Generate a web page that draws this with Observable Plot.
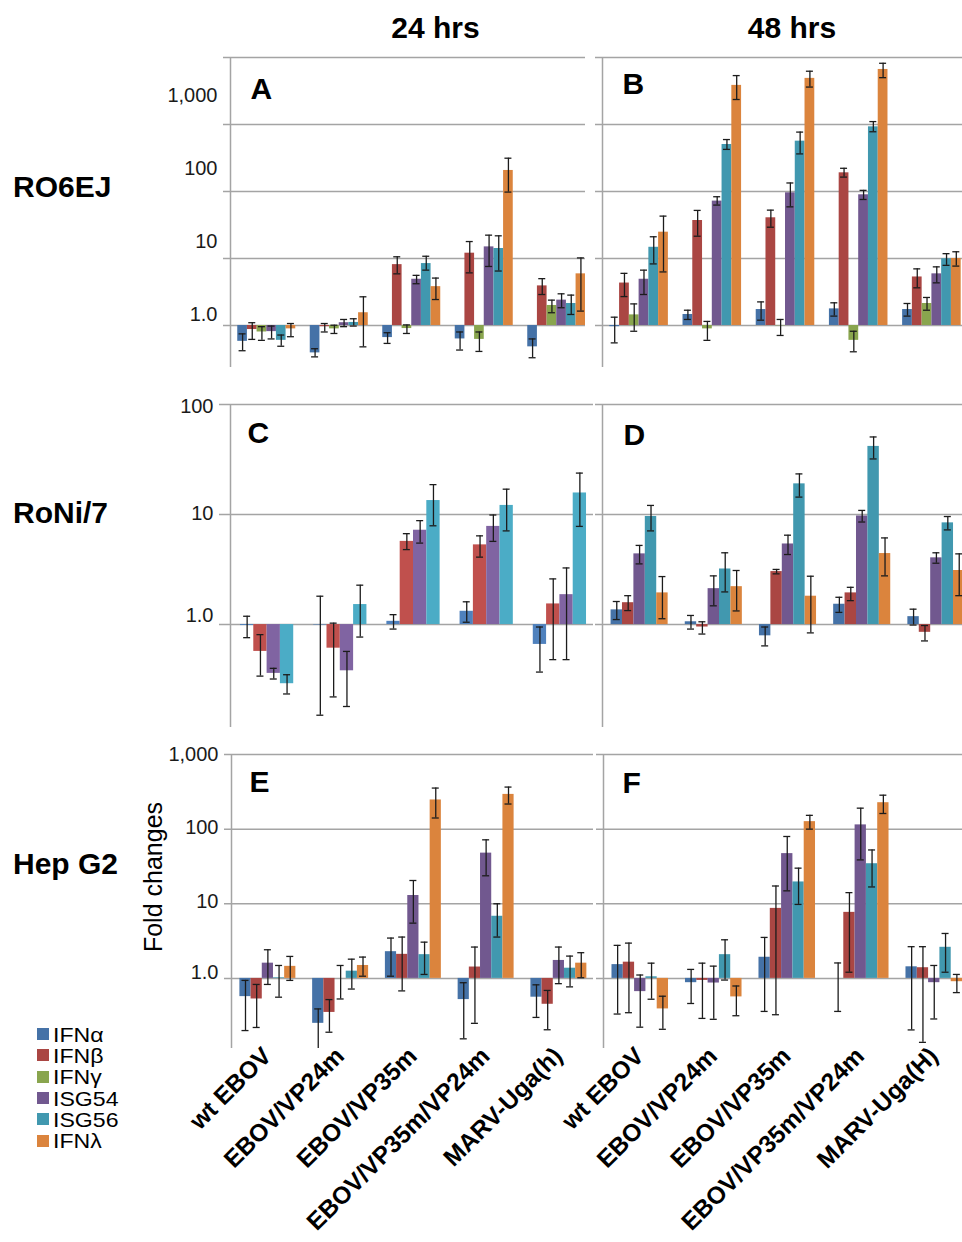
<!DOCTYPE html>
<html><head><meta charset="utf-8">
<script src="https://cdn.jsdelivr.net/npm/d3@7"></script>
<script src="https://cdn.jsdelivr.net/npm/@observablehq/plot@0.6"></script>
<style>
html,body{margin:0;padding:0;background:#fff;}
#root{position:relative;width:962px;height:1242px;overflow:hidden;font-family:"Liberation Sans",Arial,Helvetica,sans-serif;color:#000;}
.abs{position:absolute;white-space:nowrap;line-height:1;}
.hdr{font-weight:bold;font-size:30px;transform:translateX(-50%);}
.row{font-weight:bold;font-size:30px;}
.leg{font-size:21px;transform:scaleX(1.1);transform-origin:0 50%;}
.sw{position:absolute;width:12px;height:12px;}
</style></head><body><div id="root"></div>
<script>
// ---------- data ----------
const timeLabels = ["24 hrs", "48 hrs"];
const cellLines = ["RO6EJ", "RoNi/7", "Hep G2"];
const allSeries = ["IFNα", "IFNβ", "IFNγ", "ISG54", "ISG56", "IFNλ"];
const seriesColors = ["#4572A7", "#AA4643", "#89A54E", "#71588F", "#4198AF", "#DB843D"];
const seriesColorsC = ["#4F81BD", "#C0504D", "#9BBB59", "#8064A2", "#4BACC6", "#F79646"];
const groups24 = ["wt EBOV", "EBOV/VP24m", "EBOV/VP35m", "EBOV/VP35m/VP24m", "MARV-Uga(h)"];
const groups48 = ["wt EBOV", "EBOV/VP24m", "EBOV/VP35m", "EBOV/VP35m/VP24m", "MARV-Uga(H)"];
const tickValues = [1, 10, 100, 1000, 10000];
const tickLabels = ["1.0", "10", "100", "1,000"];
const yTitle = "Fold changes";

// series shown in each panel
const seriesAB = ["IFNα", "IFNβ", "IFNγ", "ISG54", "ISG56", "IFNλ"];
const seriesC = ["IFNα", "IFNβ", "ISG54", "ISG56"];
const seriesDEF = ["IFNα", "IFNβ", "ISG54", "ISG56", "IFNλ"];

// Panel A (RO6EJ, 24 hrs) rows = groups, columns = seriesAB
const valA = [[0.58,0.87,0.80,0.81,0.60,0.89],[0.39,0.96,0.89,1.10,1.11,1.55],[0.66,8.1,0.90,4.9,8.4,3.8],[0.63,12.0,0.62,14.9,14.1,206],[0.48,3.9,1.99,2.39,2.13,5.9]];
const loA  = [[0.42,0.62,0.60,0.63,0.49,0.68],[0.34,0.80,0.76,0.96,0.98,0.48],[0.54,5.9,0.76,4.2,6.7,2.44],[0.43,6.1,0.41,7.6,6.5,98],[0.33,2.9,1.55,1.84,1.46,1.64]];
const hiA  = [[0.75,1.10,0.96,0.98,0.72,1.07],[0.45,1.07,1.01,1.23,1.26,2.68],[0.78,10.6,1.02,5.6,10.8,5.1],[0.80,17.9,0.80,22.3,21.8,314],[0.63,5.0,2.39,2.97,2.84,10.2]];
// Panel B (RO6EJ, 48 hrs)
const valB = [[0.96,4.3,1.44,4.9,14.7,24.7],[1.46,36.9,0.89,71.9,503,3835],[1.73,40.5,0.99,95.6,564,4880],[1.77,190,0.60,89.3,923,6630],[1.73,5.3,2.13,5.9,9.9,10.0]];
const loB  = [[0.55,2.7,0.82,2.9,8.3,6.3],[1.23,21.5,0.60,62.7,425,2360],[1.2,29.3,0.71,59,364,3620],[1.38,164,0.405,76,779,5000],[1.38,3.65,1.69,4.33,7.9,7.7]];
const hiB  = [[1.33,6.0,2.1,6.7,21.1,42.9],[1.69,52.2,1.15,83.5,596,5370],[2.25,52.7,1.23,134,770,6240],[2.18,222,0.82,104,1105,8200],[2.13,7.0,2.62,7.5,11.8,12.6]];
// Panel C (RoNi/7, 24 hrs) columns = seriesC
const valC = [[0.98,0.57,0.36,0.29],[0.99,0.61,0.38,1.52],[1.07,5.7,7.2,13.4],[1.32,5.3,7.8,12.1],[0.66,1.54,1.87,15.7]];
const loC  = [[0.76,0.34,0.32,0.234],[0.15,0.22,0.18,0.77],[0.91,4.8,5.5,7.9],[1.05,4.1,5.7,7.1],[0.37,0.48,0.48,7.8]];
const hiC  = [[1.19,0.81,0.40,0.35],[1.81,1.03,0.57,2.28],[1.23,6.7,8.8,18.7],[1.61,6.4,9.9,17.0],[0.95,2.6,3.27,23.8]];
// Panel D (RoNi/7, 48 hrs) columns = seriesDEF
const valD = [[1.36,1.58,4.39,9.6,1.94],[1.06,0.95,2.12,3.2,2.21],[0.79,3.03,5.4,19.0,1.81],[1.53,1.94,9.7,41.6,4.42],[1.18,0.85,4.04,8.4,3.1]];
const loD  = [[1.11,1.34,3.56,7.1,1.13],[0.91,0.82,1.48,1.98,1.33],[0.64,2.89,4.33,14.4,0.84],[1.29,1.65,8.55,32.0,2.77],[0.99,0.71,3.61,7.25,1.83]];
const hiD  = [[1.62,1.83,5.24,12.1,2.73],[1.21,1.06,2.77,4.49,3.1],[0.95,3.17,6.49,23.4,2.75],[1.77,2.18,10.9,50.7,6.13],[1.38,0.98,4.49,9.59,4.39]];
// Panel E (Hep G2, 24 hrs)
const valE = [[0.57,0.53,1.6,1.02,1.45],[0.25,0.35,1.0,1.25,1.49],[2.28,2.1,12.9,2.08,246],[0.52,1.42,47.7,6.8,292],[0.56,0.45,1.74,1.37,1.6]];
const loE  = [[0.20,0.22,0.83,0.56,0.94],[0.10,0.19,0.53,0.72,1.07],[1.07,0.68,5.5,1.13,141],[0.155,0.25,23.7,3.58,217],[0.30,0.205,0.85,0.77,1.02]];
const hiE  = [[0.94,0.83,2.42,1.49,1.97],[0.39,0.52,1.49,1.81,1.93],[3.47,3.58,20.5,3.06,355],[0.875,2.63,71.9,10.0,366],[0.82,0.69,2.63,1.99,2.21]];
// Panel F (Hep G2, 48 hrs)
const valF = [[1.53,1.65,0.665,1.05,0.39],[0.876,0.94,0.867,2.08,0.565],[1.92,8.67,47.0,19.6,126],[1.0,7.67,114,34.4,226],[1.43,1.39,0.876,2.61,0.903]];
const loF  = [[0.333,0.347,0.222,0.526,0.208],[0.461,0.291,0.283,0.95,0.316],[0.361,0.326,14.9,9.8,100],[0.361,1.21,38.7,16.8,162],[0.204,0.139,0.286,1.21,0.645]];
const hiF  = [[2.77,2.97,1.11,1.6,0.577],[1.32,1.6,1.46,3.29,0.791],[3.54,17.3,79.7,30.0,153],[1.61,14.1,191,52.6,285],[2.66,2.66,1.49,4.0,1.13]];

// ---------- layout ----------
const GRID = "#a4a4a4", ERR = "#1c1c1c";
const FONT = '"Liberation Sans", Arial, Helvetica, sans-serif';
const root = document.getElementById("root");

function colorsFor(series, pal) { return series.map(s => pal[allSeries.indexOf(s)]); }

function drawPanel(p) {
  const n = p.series.length, step = n + 1.5;
  const rows = [];
  p.groups.forEach((g, gi) => p.series.forEach((s, si) => rows.push({
    g, s, x: gi * step + 0.75 + si, v: p.val[gi][si], lo: p.lo[gi][si], hi: p.hi[gi][si]
  })));
  const cx = d => d.x + 0.5;
  const grid = tickValues.filter(t => t <= p.yDomain[1]);
  const marks = [
    Plot.ruleY(grid, {y: d => d, stroke: GRID, strokeWidth: 1.5, insetLeft: -p.tick}),
    Plot.rectY(rows, {x1: "x", x2: d => d.x + 1, y1: 1, y2: "v", fill: "s"}),
    Plot.ruleX(rows, {x: cx, y1: "lo", y2: "hi", stroke: ERR, strokeWidth: 1.3, clip: true}),
    Plot.ruleY(rows, {x1: cx, x2: cx, y: "lo", stroke: ERR, strokeWidth: 1.3, insetLeft: -3.5, insetRight: -3.5, clip: true}),
    Plot.ruleY(rows, {x1: cx, x2: cx, y: "hi", stroke: ERR, strokeWidth: 1.3, insetLeft: -3.5, insetRight: -3.5, clip: true}),
    Plot.ruleX([0], {stroke: GRID, strokeWidth: 1.5}),
    Plot.text([p.letter], {frameAnchor: "top-left", dx: p.ldx, dy: p.ldy, lineAnchor: "top", textAnchor: "start",
      fontSize: 30, fontWeight: "bold", fill: "#000"})
  ];
  if (p.labelDy) {
    p.labelDy.forEach((dy, i) => marks.push(Plot.text([tickLabels[i]], {
      y: () => tickValues[i], frameAnchor: "left", textAnchor: "end", dx: -(p.tick + 6), dy,
      fontSize: 20, fill: "#1a1a1a"
    })));
  }
  if (p.xLabels) {
    marks.push(Plot.text(p.groups, {
      x: (d, i) => i * step + 0.75 + n / 2, frameAnchor: "bottom", rotate: -45, textAnchor: "end",
      dx: 5, dy: 9, fontSize: 24.5, fontWeight: "bold", fill: "#000"
    }));
  }
  const svg = Plot.plot({
    width: p.w, height: p.h,
    marginLeft: p.ml, marginRight: 0, marginTop: p.mt, marginBottom: p.mb,
    x: {type: "linear", domain: [0, 5 * step], range: [p.ml, p.ml + p.R], axis: null},
    y: {type: "log", domain: p.yDomain, axis: null},
    color: {domain: p.series, range: colorsFor(p.series, p.pal)},
    style: {background: "transparent", overflow: "hidden", fontFamily: FONT},
    marks
  });
  svg.style.position = "absolute";
  svg.style.left = p.left + "px";
  svg.style.top = p.top + "px";
  root.appendChild(svg);
}

const row1 = {yDomain: [0.236, 10000], top: 40, mt: 17, h: 328, mb: 1};
const row2 = {yDomain: [0.116, 100], top: 380, mt: 24, h: 347, mb: 0};
const row3 = {yDomain: [0.115, 1000], top: 730, mt: 24, h: 512, mb: 194};

drawPanel({...row1, letter: "A", series: seriesAB, groups: groups24, val: valA, lo: loA, hi: hiA, pal: seriesColors,
  left: 150, w: 435, ml: 80, R: 362.5, tick: 7, ldx: 20, ldy: 20, labelDy: [-11, -17, -23, -29]});
drawPanel({...row1, letter: "B", series: seriesAB, groups: groups48, val: valB, lo: loB, hi: hiB, pal: seriesColors,
  left: 540, w: 422, ml: 62, R: 366, tick: 7, ldx: 20, ldy: 15});
drawPanel({...row2, letter: "C", series: seriesC, groups: groups24, val: valC, lo: loC, hi: hiC, pal: seriesColorsC,
  left: 150, w: 443, ml: 80, R: 366, tick: 11, ldx: 17, ldy: 17, labelDy: [-9, -1, 2]});
drawPanel({...row2, letter: "D", series: seriesDEF, groups: groups48, val: valD, lo: loD, hi: hiD, pal: seriesColors,
  left: 540, w: 422, ml: 62, R: 371, tick: 7, ldx: 21, ldy: 19});
drawPanel({...row3, letter: "E", series: seriesDEF, groups: groups24, val: valE, lo: loE, hi: hiE, pal: seriesColors,
  left: 150, w: 443, ml: 81, R: 363.75, tick: 7, ldx: 18, ldy: 16, labelDy: [-6, -2, -2, 0], xLabels: true});
drawPanel({...row3, letter: "F", series: seriesDEF, groups: groups48, val: valF, lo: loF, hi: hiF, pal: seriesColors,
  left: 540, w: 422, ml: 63, R: 367.5, tick: 7, ldx: 19, ldy: 17, xLabels: true});

// ---------- HTML text: headers, row labels, axis title, legend ----------
function addText(txt, cls, left, top, extra) {
  const d = document.createElement("div");
  d.className = "abs " + cls;
  d.textContent = txt;
  d.style.left = left + "px";
  d.style.top = top + "px";
  if (extra) Object.assign(d.style, extra);
  root.appendChild(d);
  return d;
}
addText(timeLabels[0], "hdr", 435.5, 12.5);
addText(timeLabels[1], "hdr", 792, 12.5);
addText(cellLines[0], "row", 13, 171.5);
addText(cellLines[1], "row", 13, 497.5);
addText(cellLines[2], "row", 13, 848.5);
addText(yTitle, "", 153, 877, {fontSize: "25px", transform: "translate(-50%,-50%) rotate(-90deg)"});

allSeries.forEach((s, i) => {
  const c = 1034 + i * 21.3;
  const sw = document.createElement("div");
  sw.className = "sw";
  sw.style.left = "37px"; sw.style.top = (c - 6) + "px";
  sw.style.background = seriesColors[i];
  root.appendChild(sw);
  addText(s, "leg", 53, c - 10.2);
});
</script></body></html>
